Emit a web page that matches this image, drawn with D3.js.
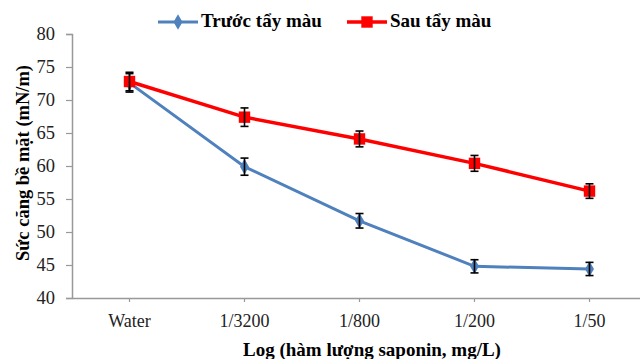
<!DOCTYPE html>
<html>
<head>
<meta charset="utf-8">
<script src="https://cdn.jsdelivr.net/npm/d3@7"></script>
<style>
  body { margin: 0; background: #fff; }
</style>
</head>
<body>
<div class="container"></div>
<script>
// data
const categories = ['Water', '1/3200', '1/800', '1/200', '1/50'];
const truocValues = [72.6, 59.9, 51.7, 44.8, 44.4];
const truocErrors = [1.4, 1.3, 1.1, 1.0, 1.0];
const sauValues = [72.8, 67.4, 64.1, 60.4, 56.2];
const sauErrors = [1.4, 1.4, 1.2, 1.2, 1.1];
const yTicks = [40, 45, 50, 55, 60, 65, 70, 75, 80];

const FONT = "'Liberation Serif', 'DejaVu Serif', serif";

const width = 640;
const height = 359;
const margin = { top: 34, right: -7, bottom: 61, left: 72 };

const svg = d3.select('.container')
  .append('svg')
  .attr('width', width)
  .attr('height', height)
  .attr('font-family', FONT);

const x = d3.scaleBand()
  .domain(categories)
  .range([margin.left, width - margin.right]);

const y = d3.scaleLinear()
  .domain([40, 80])
  .range([height - margin.bottom, margin.top]);

const cx = d => x(d) + x.bandwidth() / 2;

// y axis
const yAxis = svg.append('g')
  .attr('transform', `translate(${margin.left},0)`)
  .call(d3.axisLeft(y).tickValues(yTicks).tickSize(6).tickPadding(11))
  .attr('font-family', FONT);
yAxis.select('.domain').attr('stroke', '#999').attr('stroke-width', 1.5);
yAxis.selectAll('.tick line').attr('stroke', '#999').attr('stroke-width', 1.2);
yAxis.selectAll('.tick text')
  .attr('font-size', '18.5px')
  .attr('fill', '#222');

// x axis
const xAxis = svg.append('g')
  .attr('transform', `translate(0,${y(40)})`)
  .call(d3.axisBottom(x).tickSize(4).tickSizeOuter(0).tickPadding(12))
  .attr('font-family', FONT);
xAxis.select('.domain').attr('stroke', '#999').attr('stroke-width', 1.5);
xAxis.selectAll('.tick line').attr('stroke', '#999').attr('stroke-width', 1.2);
xAxis.selectAll('.tick text')
  .attr('font-size', '18px')
  .attr('fill', '#222');

// axis titles
svg.append('text')
  .attr('x', 372)
  .attr('y', 356)
  .attr('text-anchor', 'middle')
  .attr('font-size', '19px')
  .attr('font-weight', 'bold')
  .text('Log (hàm lượng saponin, mg/L)');

svg.append('text')
  .attr('transform', 'translate(29,163) rotate(-90)')
  .attr('text-anchor', 'middle')
  .attr('font-size', '18.5px')
  .attr('font-weight', 'bold')
  .text('Sức căng bề mặt (mN/m)');

const series = [
  { name: 'Trước tẩy màu', values: truocValues, errors: truocErrors, color: '#4f81bd', width: 3, symbol: d3.symbolDiamond, size: 70 },
  { name: 'Sau tẩy màu', values: sauValues, errors: sauErrors, color: '#ff0000', width: 3.5, symbol: d3.symbolSquare, size: 130 }
];

const line = d3.line()
  .x(d => cx(d.cat))
  .y(d => y(d.v));

series.forEach(s => {
  const pts = categories.map((c, i) => ({ cat: c, v: s.values[i], e: s.errors[i] }));

  svg.append('path')
    .datum(pts)
    .attr('fill', 'none')
    .attr('stroke', s.color)
    .attr('stroke-width', s.width)
    .attr('d', line);

  svg.append('g').selectAll('path')
    .data(pts)
    .enter()
    .append('path')
    .attr('transform', d => `translate(${cx(d.cat)},${y(d.v)})`)
    .attr('d', d3.symbol().type(s.symbol).size(s.size))
    .attr('fill', s.color);

  // error bars
  const eb = svg.append('g').selectAll('g')
    .data(pts)
    .enter()
    .append('g')
    .attr('stroke', '#000')
    .attr('stroke-width', 1.6);
  eb.append('line')
    .attr('x1', d => cx(d.cat)).attr('x2', d => cx(d.cat))
    .attr('y1', d => y(d.v + d.e)).attr('y2', d => y(d.v - d.e));
  eb.append('line')
    .attr('x1', d => cx(d.cat) - 4).attr('x2', d => cx(d.cat) + 4)
    .attr('y1', d => y(d.v + d.e)).attr('y2', d => y(d.v + d.e));
  eb.append('line')
    .attr('x1', d => cx(d.cat) - 4).attr('x2', d => cx(d.cat) + 4)
    .attr('y1', d => y(d.v - d.e)).attr('y2', d => y(d.v - d.e));
});

// legend
const legendX = [158, 347];
series.forEach((s, i) => {
  const g = svg.append('g').attr('transform', `translate(${legendX[i]},22)`);
  g.append('line')
    .attr('x1', 0).attr('x2', 40)
    .attr('stroke', s.color)
    .attr('stroke-width', s.width);
  g.append('path')
    .attr('transform', 'translate(20,0)')
    .attr('d', d3.symbol().type(s.symbol).size(s.size))
    .attr('fill', s.color);
  g.append('text')
    .attr('x', 43)
    .attr('y', 5)
    .attr('font-size', '19px')
    .attr('font-weight', 'bold')
    .text(s.name);
});
</script>
</body>
</html>
